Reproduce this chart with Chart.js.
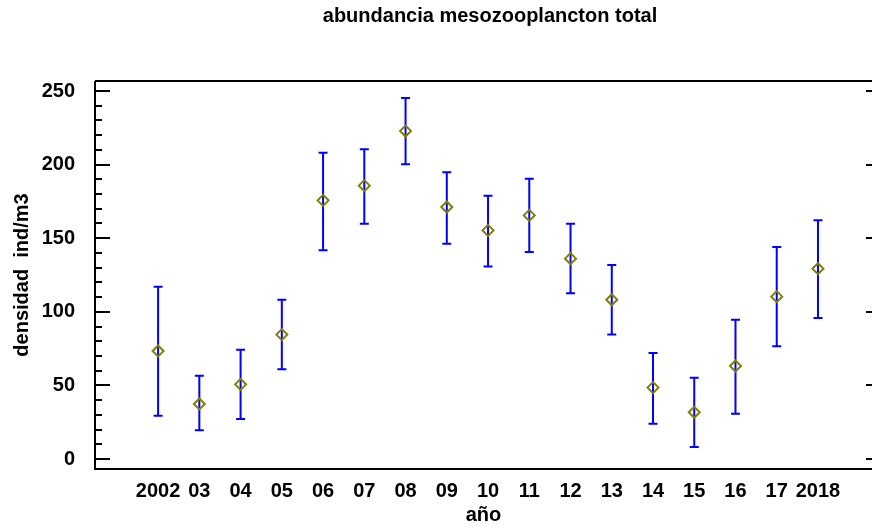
<!DOCTYPE html>
<html>
<head>
<meta charset="utf-8">
<script src="https://cdn.jsdelivr.net/npm/chart.js@4"></script>
<style>
  html, body { margin: 0; padding: 0; background: #fff; }
  #wrap { width: 872px; height: 529px; }
</style>
</head>
<body>
<div id="wrap"><canvas id="chart" width="872" height="529"></canvas></div>
<script>
// data
const years = [2002, 2003, 2004, 2005, 2006, 2007, 2008, 2009, 2010, 2011, 2012, 2013, 2014, 2015, 2016, 2017, 2018];
const yearLabels = ["2002", "03", "04", "05", "06", "07", "08", "09", "10", "11", "12", "13", "14", "15", "16", "17", "2018"];
const means = [73.4, 37.4, 50.7, 84.5, 175.7, 185.7, 222.8, 171.2, 155.3, 165.5, 136.1, 108.2, 48.5, 31.7, 63.2, 110.3, 129.3];
const upper = [117.0, 56.6, 74.3, 108.2, 208.1, 210.4, 245.2, 194.8, 178.9, 190.4, 159.9, 131.8, 72.0, 55.2, 94.6, 144.0, 162.2];
const lower = [29.4, 19.5, 27.2, 60.9, 141.8, 159.9, 200.2, 146.3, 130.7, 140.6, 112.6, 84.5, 24.0, 8.2, 30.8, 76.6, 95.8];
const yTicks = [0, 50, 100, 150, 200, 250];

const FONT = "'Liberation Sans', Arial, sans-serif";

// frame, ticks, error bars and title
const decorPlugin = {
  id: "decor",
  beforeDatasetsDraw(chart) {
    const ctx = chart.ctx;
    const area = chart.chartArea;
    const x = chart.scales.x;
    const y = chart.scales.y;
    ctx.save();

    // error bars
    ctx.strokeStyle = "#0000ff";
    ctx.lineWidth = 2;
    years.forEach((yr, i) => {
      const px = x.getPixelForValue(yr);
      const top = y.getPixelForValue(upper[i]);
      const bot = y.getPixelForValue(lower[i]);
      ctx.beginPath();
      ctx.moveTo(px, top);
      ctx.lineTo(px, bot);
      ctx.moveTo(px - 4.5, top);
      ctx.lineTo(px + 4.5, top);
      ctx.moveTo(px - 4.5, bot);
      ctx.lineTo(px + 4.5, bot);
      ctx.stroke();
    });

    // frame
    ctx.strokeStyle = "#000";
    ctx.lineWidth = 2;
    ctx.beginPath();
    ctx.moveTo(area.left, area.top);
    ctx.lineTo(area.right, area.top);
    ctx.moveTo(area.left, area.top);
    ctx.lineTo(area.left, area.bottom);
    ctx.lineTo(area.right, area.bottom);
    ctx.stroke();

    // tick marks on the y axes
    ctx.beginPath();
    for (let v = 0; v <= 250; v += 10) {
      const py = Math.round(y.getPixelForValue(v));
      const major = v % 50 === 0;
      ctx.moveTo(area.left, py);
      ctx.lineTo(area.left + (major ? 15 : 7), py);
      if (major) {
        ctx.moveTo(area.right, py);
        ctx.lineTo(area.right - 6, py);
      }
    }
    ctx.stroke();

    // chart title
    ctx.fillStyle = "#000";
    ctx.font = "bold 20px " + FONT;
    ctx.textAlign = "center";
    ctx.textBaseline = "middle";
    ctx.fillText("abundancia mesozooplancton total", 490, 16);
    ctx.restore();
  }
};

new Chart(document.getElementById("chart"), {
  type: "scatter",
  data: {
    datasets: [{
      label: "abundancia",
      data: years.map((yr, i) => ({ x: yr, y: means[i] })),
      pointStyle: "rectRot",
      pointRadius: 5.5,
      pointBorderWidth: 2,
      pointBorderColor: "#808000",
      pointBackgroundColor: "rgba(0,0,0,0)",
      showLine: false
    }]
  },
  options: {
    responsive: false,
    animation: false,
    events: [],
    layout: { autoPadding: false, padding: { top: 81, left: 0, right: 0, bottom: 0 } },
    plugins: {
      legend: { display: false },
      tooltip: { enabled: false },
      title: { display: false }
    },
    scales: {
      x: {
        type: "linear",
        min: 2000.47,
        max: 2019.31,
        grid: { display: false },
        border: { display: false },
        afterFit: (s) => { s.height = 60; s.paddingLeft = 0; s.paddingRight = 0; },
        afterBuildTicks: (s) => { s.ticks = years.map((v) => ({ value: v })); },
        ticks: {
          autoSkip: false,
          maxRotation: 0,
          padding: 2,
          color: "#000",
          font: { family: FONT, size: 20, weight: "bold" },
          callback: (v) => yearLabels[years.indexOf(v)]
        },
        title: {
          display: true,
          text: "año",
          color: "#000",
          font: { family: FONT, size: 20, weight: "bold" },
          padding: { top: 0, bottom: 2 }
        }
      },
      y: {
        min: -6.8,
        max: 256.8,
        grid: { display: false },
        border: { display: false },
        afterFit: (s) => { s.width = 95; },
        afterBuildTicks: (s) => { s.ticks = yTicks.map((v) => ({ value: v })); },
        ticks: {
          padding: 12,
          color: "#000",
          font: { family: FONT, size: 20, weight: "bold" }
        },
        title: {
          display: true,
          text: "densidad  ind/m3",
          color: "#000",
          font: { family: FONT, size: 20, weight: "bold" },
          padding: { top: 10, bottom: 0 }
        }
      }
    }
  },
  plugins: [decorPlugin]
});
</script>
</body>
</html>
